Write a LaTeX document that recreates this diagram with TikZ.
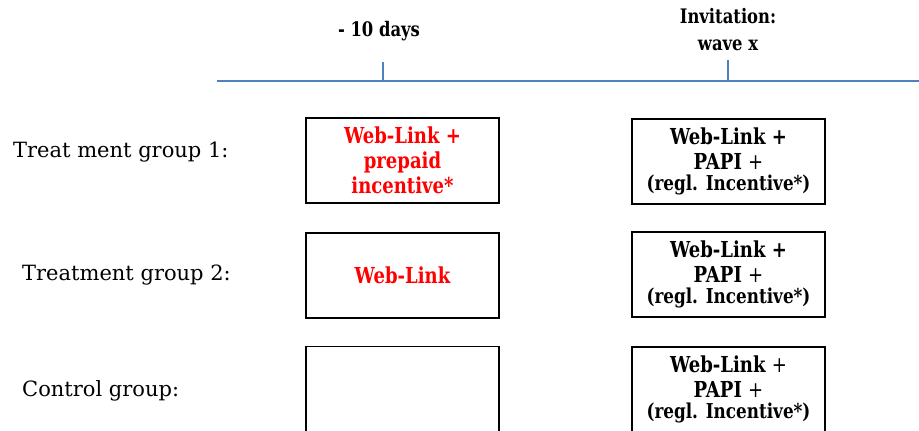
\documentclass[tikz,border=0pt]{standalone}
\usepackage{fontspec}
\setmainfont{DejaVu Serif}
\newfontfamily\boxfont[FakeStretch=0.82]{DejaVu Serif}
\definecolor{tl}{RGB}{79,129,189}
\begin{document}
\begin{tikzpicture}[x=1pt,y=-1pt,
  groupbox/.style={draw=black, line width=1.6pt, minimum width=193pt, minimum height=85pt,
    inner sep=0pt, align=center, font=\boxfont\bfseries\fontsize{22}{25}\selectfont},
  redtext/.style={text=red},
  grplabel/.style={anchor=west, inner sep=0pt, font=\fontsize{21}{25}\selectfont},
  toplabel/.style={inner sep=0pt, align=center, font=\boxfont\bfseries\fontsize{20}{27}\selectfont},
  timeline/.style={draw=tl, line width=2pt}]
\useasboundingbox (0,0) rectangle (919,431);
\clip (0,0) rectangle (919,431);
% timeline
\coordinate (tlstart) at (217,81);
\coordinate (tlend) at (920,81);
\coordinate (t1top) at (383,62);
\coordinate (t1bot) at (383,81);
\coordinate (t2top) at (728,60);
\coordinate (t2bot) at (728,81);
\draw[timeline] (tlstart) -- (tlend);
\draw[timeline] (t1top) -- (t1bot);
\draw[timeline] (t2top) -- (t2bot);
\node[toplabel] (lab10) at (379,31) {- 10 days};
\node[toplabel] (labinv) at (728,30) {Invitation:\\wave x};
% group labels
\node[grplabel] (g1) at (13,152) {Treat ment group 1:};
\node[grplabel] (g2) at (22,275) {Treatment group 2:};
\node[grplabel] (g3) at (22,391) {Control group:};
% boxes
\node[groupbox, redtext] (b1l) at (402.5,160.5) {Web-Link +\\prepaid\\incentive*};
\node[groupbox] (b1r) at (728.5,161.5) {Web-Link +\\PAPI {\mdseries +}\\[-4pt]{\fontsize{20.5}{20}\selectfont (regl. Incentive*)}};
\node[groupbox, redtext] (b2l) at (402.5,275.5) {Web-Link};
\node[groupbox] (b2r) at (728.5,274.5) {Web-Link +\\PAPI {\mdseries +}\\[-4pt]{\fontsize{20.5}{20}\selectfont (regl. Incentive*)}};
\node[groupbox] (b3l) at (402.5,389) {};
\node[groupbox] (b3r) at (728.5,389.5) {Web-Link {\mdseries +}\\PAPI {\mdseries +}\\[-4pt]{\fontsize{20.5}{20}\selectfont (regl. Incentive*)}};
\end{tikzpicture}
\end{document}
